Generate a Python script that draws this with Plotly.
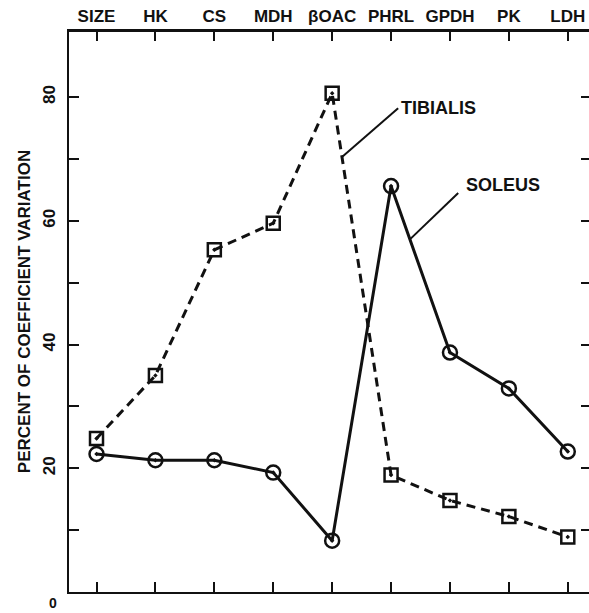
import plotly.graph_objects as go

categories = ["SIZE", "HK", "CS", "MDH", "βOAC", "PHRL", "GPDH", "PK", "LDH"]
tibialis = [24.8, 35.0, 55.3, 59.6, 80.6, 18.9, 14.8, 12.2, 8.9]
soleus = [22.3, 21.3, 21.3, 19.3, 8.3, 65.6, 38.7, 32.9, 22.7]
y_ticks = [10, 20, 30, 40, 50, 60, 70, 80]
y_labels = ["", "20", "", "40", "", "60", "", "80"]

FONT = "Liberation Sans, Arial, sans-serif"
INK = "#111111"

fig = go.Figure()
fig.add_trace(go.Scatter(
    x=categories, y=tibialis, mode="lines+markers", name="TIBIALIS",
    line=dict(color=INK, width=3, dash="9px,6px"),
    marker=dict(symbol="square-open-dot", size=13, color=INK,
                line=dict(width=2.5, color=INK)),
    cliponaxis=False,
))
fig.add_trace(go.Scatter(
    x=categories, y=soleus, mode="lines+markers", name="SOLEUS",
    line=dict(color=INK, width=3),
    marker=dict(symbol="circle-open-dot", size=14, color=INK,
                line=dict(width=2.5, color=INK)),
    cliponaxis=False,
))
# invisible helper trace so the right-hand tick axis is drawn
fig.add_trace(go.Scatter(
    x=categories, y=soleus, mode="lines", yaxis="y2",
    line=dict(width=0, color="rgba(0,0,0,0)"), hoverinfo="skip",
    showlegend=False,
))

XR = [-0.467, 8.36]
YR = [0, 90.67]

fig.update_layout(
    width=589, height=613,
    margin=dict(l=69, r=0, t=31, b=21, autoexpand=False),
    paper_bgcolor="white", plot_bgcolor="white",
    showlegend=False,
    font=dict(family=FONT, color=INK, size=17, weight="bold"),
    xaxis=dict(
        type="category", range=XR, side="top", automargin=False,
        showline=True, linecolor=INK, linewidth=2, mirror="ticks",
        ticks="inside", ticklen=10, tickwidth=1.5, tickcolor=INK,
        showgrid=False, zeroline=False,
        tickfont=dict(family=FONT, size=17, weight="bold", color=INK),
    ),
    yaxis=dict(
        range=YR, showline=True, linecolor=INK, linewidth=2, automargin=False,
        ticks="inside", ticklen=10, tickwidth=1.5, tickcolor=INK,
        tickvals=y_ticks, ticktext=y_labels, tickangle=-90,
        ticklabelstandoff=5,
        showgrid=False, zeroline=False,
        tickfont=dict(family=FONT, size=17, weight="bold", color=INK),
        title=dict(text="PERCENT OF COEFFICIENT VARIATION", standoff=5,
                   font=dict(family=FONT, size=17, weight="bold", color=INK)),
    ),
    yaxis2=dict(
        range=YR, overlaying="y", side="right", anchor="x", automargin=False,
        showline=False, ticks="inside", ticklen=8, tickwidth=1.5,
        tickcolor=INK, tickvals=y_ticks, showticklabels=False,
        showgrid=False, zeroline=False,
    ),
)

# frame line along the top of the plot area
fig.add_shape(type="line", xref="paper", yref="paper", x0=0, x1=1, y0=1, y1=1,
              line=dict(color=INK, width=2), layer="above")

# "0" label below the origin
fig.add_annotation(x=-0.031, xref="paper", xanchor="center", y=0, yref="y",
                   yshift=-11, borderpad=0, text="0", showarrow=False,
                   font=dict(family=FONT, size=14, weight="bold", color=INK))

# series labels with leader lines starting on the curves
def seg_point(series, i, t):
    return i + t, series[i] + t * (series[i + 1] - series[i])

tib_label = dict(text="TIBIALIS", x=5.81, y=78.2)
sol_label = dict(text="SOLEUS", x=6.90, y=65.8)
tx0, ty0 = seg_point(tibialis, 4, 0.167)
sx0, sy0 = seg_point(soleus, 5, 0.32)
leaders = [((tx0, ty0), (5.12, 78.2)), ((sx0, sy0), (6.14, 64.5))]
for (x0, y0), (x1, y1) in leaders:
    fig.add_shape(type="line", xref="x", yref="y", x0=x0, y0=y0, x1=x1, y1=y1,
                  line=dict(color=INK, width=2))
for lab in (tib_label, sol_label):
    fig.add_annotation(x=lab["x"], y=lab["y"], text=lab["text"], showarrow=False,
                       font=dict(family=FONT, size=18, weight="bold", color=INK))

fig.write_html(
    "out.html",
    config={"displayModeBar": False},
    post_script="document.body.style.margin='0';document.body.style.overflow='hidden';",
)
